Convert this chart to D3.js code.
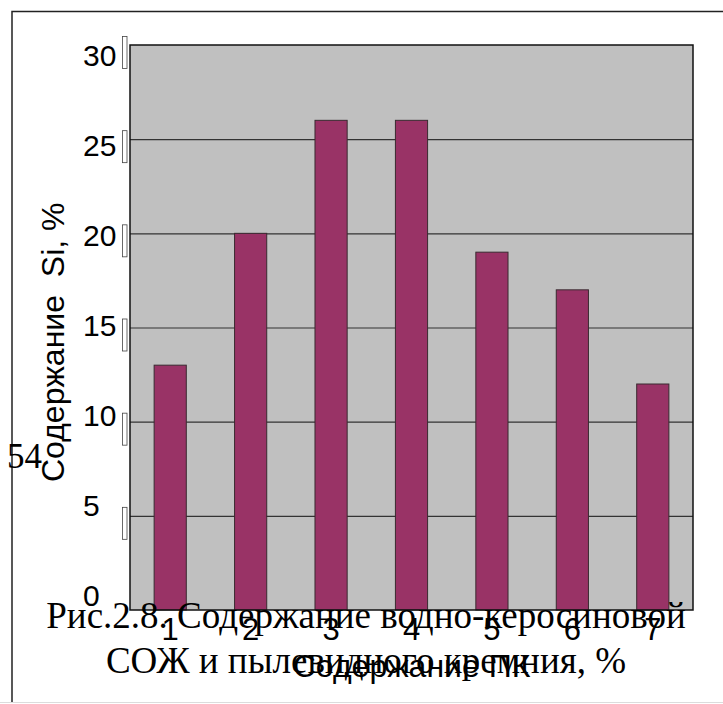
<!DOCTYPE html>
<html>
<head>
<meta charset="utf-8">
<script src="https://cdn.jsdelivr.net/npm/d3@7"></script>
<style>
  html, body { margin: 0; padding: 0; background: #fff; }
  svg { display: block; }
</style>
</head>
<body>
<script>
// Содержание Si в зависимости от содержания ПК
const categories = ["1", "2", "3", "4", "5", "6", "7"];
const siValues = [13, 20, 26, 26, 19, 17, 12];
const yTicks = [0, 5, 10, 15, 20, 25, 30];
const yTitle = "Содержание  Si, %";
const xTitle = "Содержание ПК";
const captionLines = ["Рис.2.8. Содержание водно-керосиновой", "СОЖ и пылевидного кремния, %"];
const pageNumber = "54";

const W = 723, H = 704;
const plot = { left: 130, top: 45, right: 693, bottom: 610 };
const sans = "'Liberation Sans', Arial, sans-serif";
const serif = "'Liberation Serif', 'Times New Roman', serif";

const svg = d3.select("body").append("svg")
  .attr("width", W).attr("height", H);

// page frame
svg.append("rect").attr("width", W).attr("height", H).attr("fill", "#fff");
svg.append("line").attr("x1", 0).attr("x2", W).attr("y1", 702.5).attr("y2", 702.5)
  .attr("stroke", "#dcdcdc").attr("stroke-width", 1);
svg.append("path")
  .attr("d", `M12,702 L12,11.5 L${W + 2},11.5`)
  .attr("fill", "none").attr("stroke", "#222").attr("stroke-width", 1.5);

const x = d3.scaleBand().domain(categories).range([plot.left, plot.right]).paddingInner(0.6).paddingOuter(0.3);
const xc = d3.scaleBand().domain(categories).range([plot.left, plot.right]);
const y = d3.scaleLinear().domain([0, 30]).range([plot.bottom, plot.top]);
// tick labels sit on a slightly tighter scale than the gridlines
const yLab = d3.scaleLinear().domain([0, 30]).range([595, 55]);

// plot area
svg.append("rect")
  .attr("x", plot.left).attr("y", plot.top)
  .attr("width", plot.right - plot.left).attr("height", plot.bottom - plot.top)
  .attr("fill", "#c0c0c0");

// gridlines
svg.append("g").selectAll("line")
  .data(yTicks.filter(v => v > 0 && v < 30))
  .join("line")
  .attr("x1", plot.left).attr("x2", plot.right)
  .attr("y1", d => y(d) + 0.5).attr("y2", d => y(d) + 0.5)
  .attr("stroke", "#333").attr("stroke-width", 1.2);

// bars
svg.append("g").selectAll("rect")
  .data(siValues)
  .join("rect")
  .attr("x", (d, i) => x(categories[i]))
  .attr("width", x.bandwidth())
  .attr("y", d => y(d))
  .attr("height", d => y(0) - y(d))
  .attr("fill", "#993366")
  .attr("stroke", "#3a2a30").attr("stroke-width", 1);

// plot border
svg.append("rect")
  .attr("x", plot.left).attr("y", plot.top)
  .attr("width", plot.right - plot.left).attr("height", plot.bottom - plot.top)
  .attr("fill", "none").attr("stroke", "#111").attr("stroke-width", 1.5);

// y tick markers
svg.append("g").selectAll("rect")
  .data(yTicks.filter(v => v > 0))
  .join("rect")
  .attr("x", 122.5).attr("width", 4.5)
  .attr("y", d => y(d) - 8.5).attr("height", 32)
  .attr("fill", "#fff").attr("stroke", "#444").attr("stroke-width", 0.8);

// y tick labels
svg.append("g").selectAll("text")
  .data(yTicks)
  .join("text")
  .attr("x", 83).attr("y", d => yLab(d))
  .attr("dominant-baseline", "central")
  .attr("font-family", sans).attr("font-size", 30).attr("fill", "#000")
  .text(d => d);

// page number
svg.append("text")
  .attr("x", 7).attr("y", 468)
  .attr("font-family", serif).attr("font-size", 35).attr("fill", "#000")
  .text(pageNumber);

// y axis title
svg.append("text")
  .attr("transform", "translate(64,482) rotate(-90)")
  .attr("text-anchor", "start")
  .attr("font-family", sans).attr("font-size", 32).attr("fill", "#000")
  .attr("xml:space", "preserve")
  .style("white-space", "pre")
  .text(yTitle);

// caption
svg.append("g").selectAll("text")
  .data(captionLines)
  .join("text")
  .attr("x", 366).attr("y", (d, i) => 628 + i * 45)
  .attr("text-anchor", "middle")
  .attr("font-family", serif).attr("font-size", 37).attr("fill", "#000")
  .text(d => d);

// x tick labels
svg.append("g").selectAll("text")
  .data(categories)
  .join("text")
  .attr("x", d => xc(d) + xc.bandwidth() / 2).attr("y", 640)
  .attr("text-anchor", "middle")
  .attr("font-family", sans).attr("font-size", 31).attr("fill", "#000")
  .text(d => d);

// x axis title
svg.append("text")
  .attr("x", (plot.left + plot.right) / 2).attr("y", 677)
  .attr("text-anchor", "middle")
  .attr("font-family", sans).attr("font-size", 32).attr("fill", "#000")
  .text(xTitle);
</script>
</body>
</html>
